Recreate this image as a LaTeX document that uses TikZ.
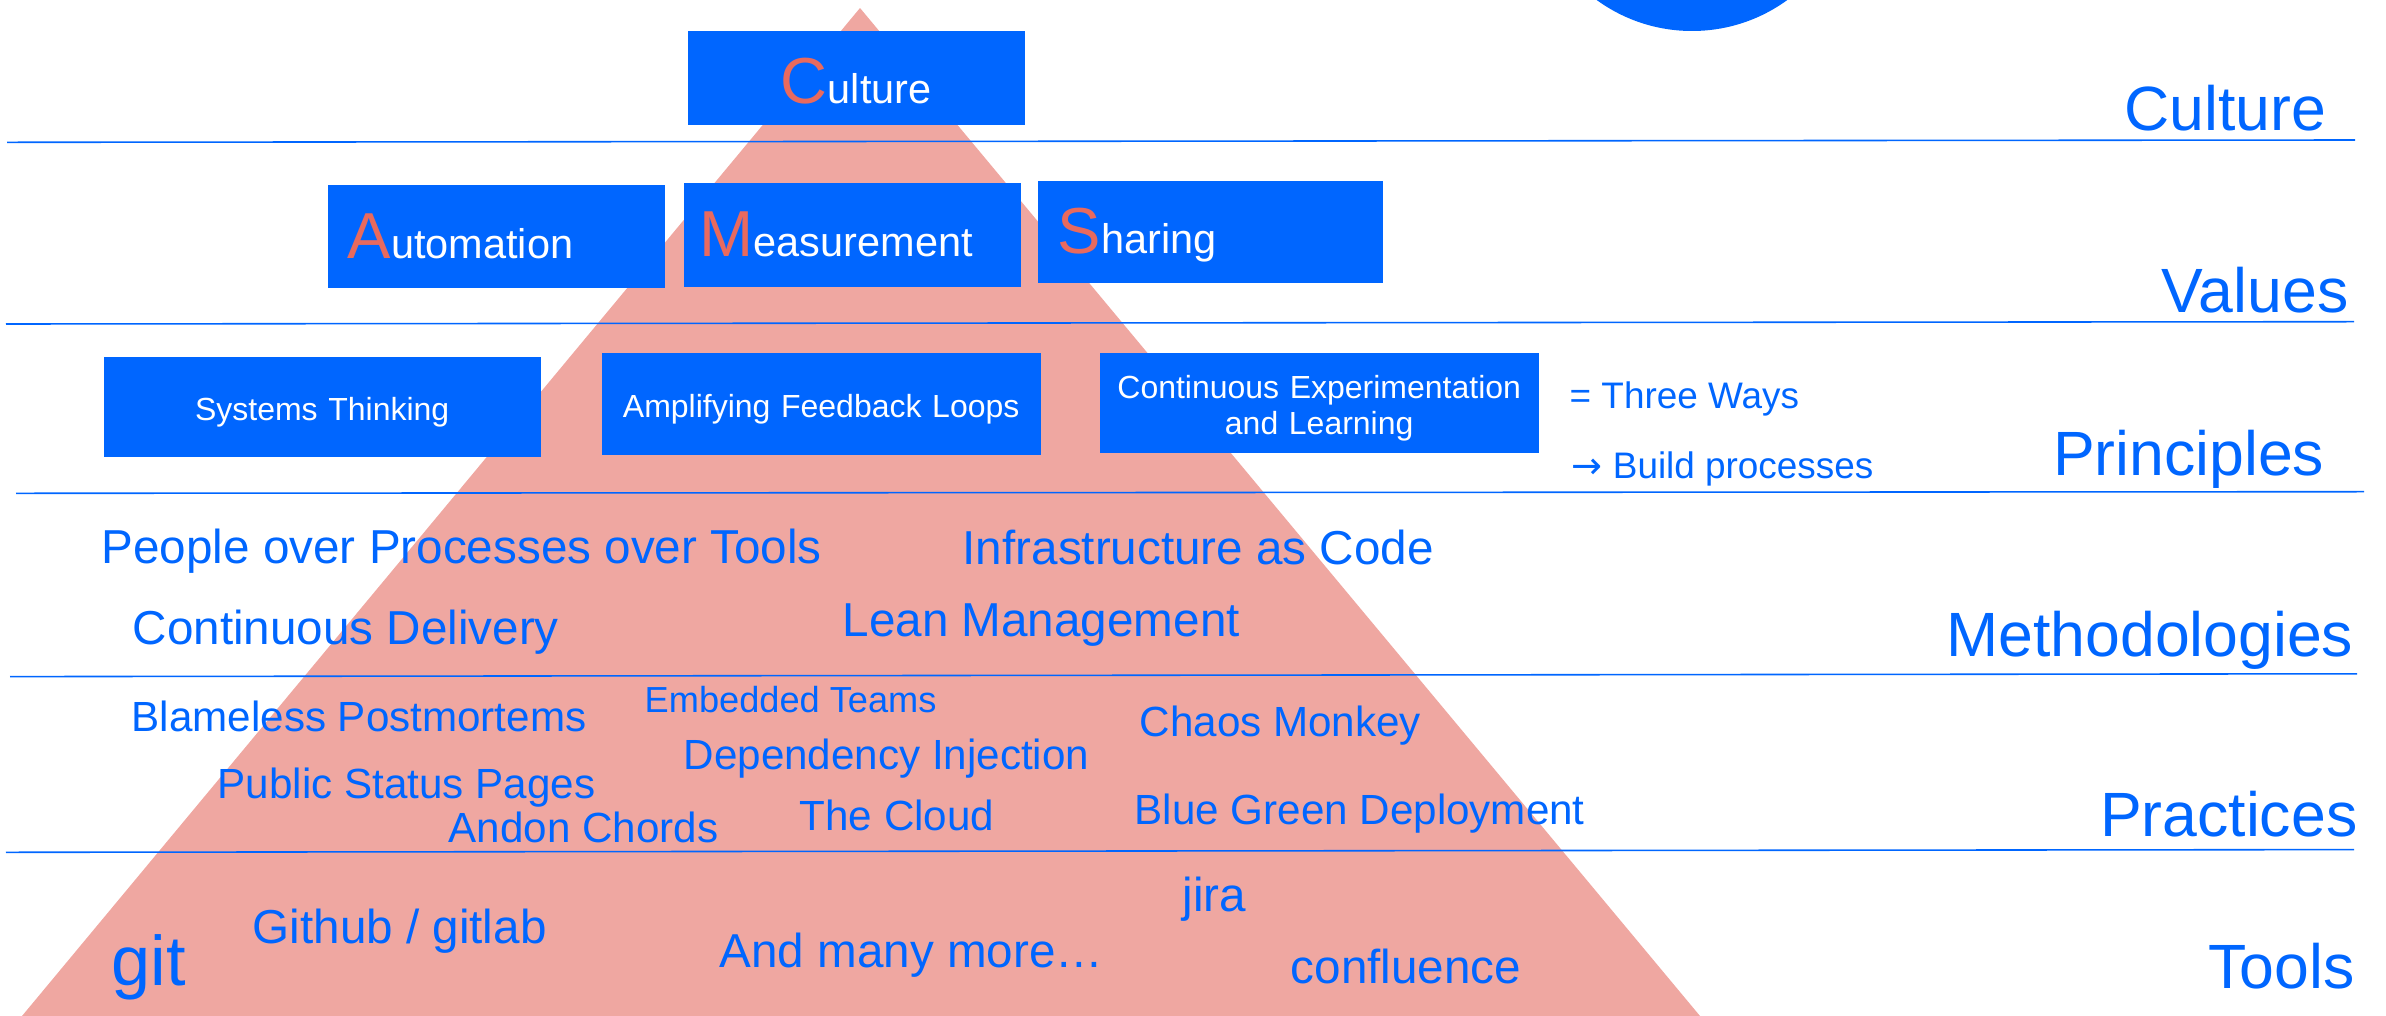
\documentclass[tikz,border=0pt]{standalone}
\usepackage{fontspec}
\setmainfont{Liberation Sans}
\newfontfamily\arrowfont{DejaVu Sans}
\usetikzlibrary{positioning}
\definecolor{devblue}{RGB}{0,102,255}
\definecolor{pyramidred}{RGB}{239,167,161}
\definecolor{letterred}{RGB}{232,106,94}
\newcommand{\calmsletter}[1]{{\fontsize{18.5}{20}\selectfont\color{letterred}#1}}
\tikzset{
  layerline/.style={draw=devblue, line width=0.45pt},
  layername/.style={text=devblue, anchor=base east, inner sep=0pt, font=\fontsize{17.8}{20}\selectfont},
  methoditem/.style={text=devblue, anchor=base west, inner sep=0pt, font=\fontsize{13.55}{16}\selectfont},
  practiceitem/.style={text=devblue, anchor=base west, inner sep=0pt, font=\fontsize{12}{14}\selectfont},
  noteitem/.style={text=devblue, anchor=base west, inner sep=0pt, font=\fontsize{10.5}{12}\selectfont},
  valuebox/.style={fill=devblue, text=white, anchor=base west, inner ysep=0pt, inner xsep=0.2cm, align=left, font=\fontsize{11.8}{14}\selectfont, text height=0.73cm, text depth=0.3cm},
  principlebox/.style={fill=devblue, text=white, anchor=base west, inner sep=0pt, align=center, font=\fontsize{9.1}{10.5}\selectfont}
}

\begin{document}
\begin{tikzpicture}
  \useasboundingbox (0,0) rectangle (23.86,-10.16);
  \clip (0,0) rectangle (23.86,-10.16);

  % pyramid and the circle cut by the top edge
  \fill[pyramidred] (8.60,-0.08) -- (0.22,-10.16) -- (17.00,-10.16) -- cycle;
  \fill[devblue] (16.92,1.31) circle (1.62);

  % layer separators
  \draw[layerline] (0.07,-1.423) -- (23.55,-1.400);
  \draw[layerline] (0.06,-3.240) -- (23.54,-3.217);
  \draw[layerline] (0.16,-4.933) -- (23.64,-4.917);
  \draw[layerline] (0.10,-6.766) -- (23.57,-6.738);
  \draw[layerline] (0.06,-8.523) -- (23.54,-8.496);

  % layer names
  \node[layername] (culturename) at (23.27,-1.30) {Culture};
  \node[layername] (valuesname) at (23.49,-3.12) {Values};
  \node[layername] (principlesname) at (23.25,-4.75) {Principles};
  \node[layername] (methodsname) at (23.54,-6.56) {Methodologies};
  \node[layername] (practicesname) at (23.58,-8.36) {Practices};
  \node[layername] (toolsname) at (23.55,-9.88) {Tools};

  % culture and values
  \node[valuebox, text width=2.97cm, align=center, text depth=0.21cm] (culture) at (6.87,-1.04) {\calmsletter{C}ulture};
  \node[valuebox, text width=2.97cm] (automation) at (3.27,-2.58) {\calmsletter{A}utomation};
  \node[valuebox, text width=3.05cm, inner xsep=0.16cm, text depth=0.31cm] (measurement) at (6.83,-2.56) {\calmsletter{M}easurement};
  \node[valuebox, text width=3.05cm, text height=0.72cm] (sharing) at (10.37,-2.53) {\calmsletter{S}haring};

  % principles
  \node[principlebox, text width=4.37cm, text height=0.63cm, text depth=0.37cm] (systems) at (1.03,-4.20) {Systems Thinking};
  \node[principlebox, text width=4.39cm, text height=0.64cm, text depth=0.38cm] (feedback) at (6.01,-4.17) {Amplifying Feedback Loops};
  \node[principlebox, text width=4.39cm, text height=0.45cm, text depth=0.55cm] (experiment) at (10.99,-3.98) {Continuous Experimentation\\and Learning};
  \node[noteitem] (threeways) at (15.69,-4.08) {= Three Ways};
  \node[noteitem] (buildproc) at (15.71,-4.78) {{\arrowfont\fontsize{10.5}{12}\selectfont →} Build processes};

  % methodologies
  \node[methoditem] (people) at (1.01,-5.63) {People over Processes over Tools};
  \node[methoditem] (iac) at (9.62,-5.64) {Infrastructure as Code};
  \node[methoditem] (delivery) at (1.32,-6.44) {Continuous Delivery};
  \node[methoditem] (lean) at (8.42,-6.36) {Lean Management};

  % practices
  \node[practiceitem] (blameless) at (1.31,-7.31) {Blameless Postmortems};
  \node[practiceitem, font=\fontsize{10.3}{12}\selectfont] (embedded) at (6.44,-7.12) {Embedded Teams};
  \node[practiceitem] (injection) at (6.83,-7.69) {Dependency Injection};
  \node[practiceitem] (chaos) at (11.39,-7.36) {Chaos Monkey};
  \node[practiceitem] (statuspages) at (2.17,-7.98) {Public Status Pages};
  \node[practiceitem] (andon) at (4.48,-8.42) {Andon Chords};
  \node[practiceitem] (cloud) at (7.99,-8.30) {The Cloud};
  \node[practiceitem] (bluegreen) at (11.34,-8.24) {Blue Green Deployment};

  % tools
  \node[methoditem, font=\fontsize{20}{22}\selectfont] (git) at (1.11,-9.85) {git};
  \node[methoditem] (github) at (2.52,-9.43) {Github / gitlab};
  \node[methoditem] (manymore) at (7.19,-9.67) {And many more…};
  \node[methoditem] (jira) at (11.82,-9.11) {jira};
  \node[methoditem] (confluence) at (12.90,-9.83) {confluence};
\end{tikzpicture}
\end{document}
